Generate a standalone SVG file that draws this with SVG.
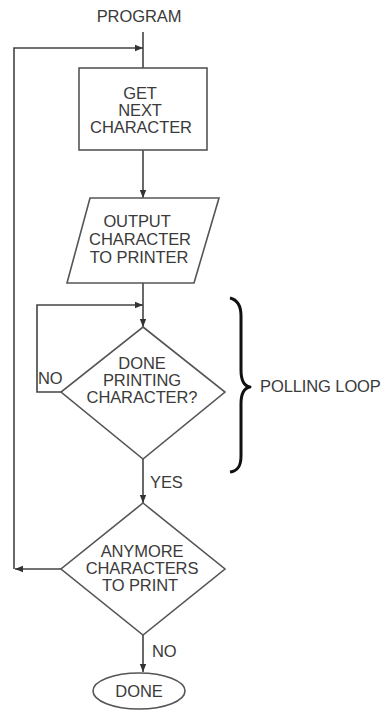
<svg xmlns="http://www.w3.org/2000/svg" width="387" height="711" viewBox="0 0 387 711">
  <style>
    .shape { fill: #ffffff; stroke: #555555; stroke-width: 1.6; }
    .line { fill: none; stroke: #444444; stroke-width: 1.6; }
    .lbl { font-family: "Liberation Sans", Arial, sans-serif; font-size: 16.5px; fill: #3a3a3a; text-anchor: middle; letter-spacing: -0.1px; }
    .side { text-anchor: start; }
    .brace { fill: none; stroke: #111111; stroke-width: 3; stroke-linejoin: round; }
  </style>
  <defs>
    <marker id="arrow" viewBox="0 0 10 10" refX="10" refY="5" markerWidth="8" markerHeight="8" markerUnits="userSpaceOnUse" orient="auto">
      <path d="M0,1 L10,5 L0,9 Z" fill="#333333"/>
    </marker>
  </defs>
  <rect width="387" height="711" fill="#ffffff"/>

  <!-- connectors -->
  <g id="connectors">
    <line class="line" x1="143" y1="32" x2="143" y2="68"/>
    <path class="line" d="M61,569 H15" marker-end="url(#arrow)"/>
    <path class="line" d="M14,569 V48 H143" marker-end="url(#arrow)"/>
    <line class="line" x1="143" y1="150" x2="143" y2="198" marker-end="url(#arrow)"/>
    <line class="line" x1="143" y1="283" x2="143" y2="327" marker-end="url(#arrow)"/>
    <path class="line" d="M61,392 H37 V305 H143" marker-end="url(#arrow)"/>
    <line class="line" x1="143" y1="459" x2="143" y2="503" marker-end="url(#arrow)"/>
    <line class="line" x1="143" y1="635" x2="143" y2="672" marker-end="url(#arrow)"/>
    <text class="lbl side" x="38" y="384">NO</text>
    <text class="lbl side" x="150" y="488">YES</text>
    <text class="lbl side" x="152" y="657">NO</text>
  </g>

  <g id="start">
    <text class="lbl" x="139" y="22">PROGRAM</text>
  </g>

  <g id="get-next">
    <rect class="shape" x="79" y="68" width="128" height="82" stroke-width="2"/>
    <text class="lbl" x="140" y="99">GET</text>
    <text class="lbl" x="140" y="116">NEXT</text>
    <text class="lbl" x="141" y="133">CHARACTER</text>
  </g>

  <g id="output">
    <polygon class="shape" points="90,198 219,198 194,283 67,283"/>
    <text class="lbl" x="137" y="227">OUTPUT</text>
    <text class="lbl" x="140" y="245">CHARACTER</text>
    <text class="lbl" x="139" y="263">TO PRINTER</text>
  </g>

  <g id="done-printing">
    <polygon class="shape" points="143,327 225,392 143,459 61,392"/>
    <text class="lbl" x="142" y="369">DONE</text>
    <text class="lbl" x="142" y="386">PRINTING</text>
    <text class="lbl" x="142" y="403">CHARACTER?</text>
  </g>

  <g id="polling-loop">
    <path class="brace" d="M230,298 C238,300 241,306 241,316 V370 C241,380 244,386 250,387 C244,388 241,394 241,404 V456 C241,466 238,471 230,472"/>
    <text class="lbl side" x="260" y="392">POLLING LOOP</text>
  </g>

  <g id="anymore">
    <polygon class="shape" points="143,503 225,569 143,635 61,569"/>
    <text class="lbl" x="142" y="557">ANYMORE</text>
    <text class="lbl" x="142" y="574">CHARACTERS</text>
    <text class="lbl" x="140" y="591">TO PRINT</text>
  </g>

  <g id="done">
    <ellipse class="shape" cx="139" cy="691" rx="46" ry="18"/>
    <text class="lbl" x="139" y="697">DONE</text>
  </g>
</svg>
